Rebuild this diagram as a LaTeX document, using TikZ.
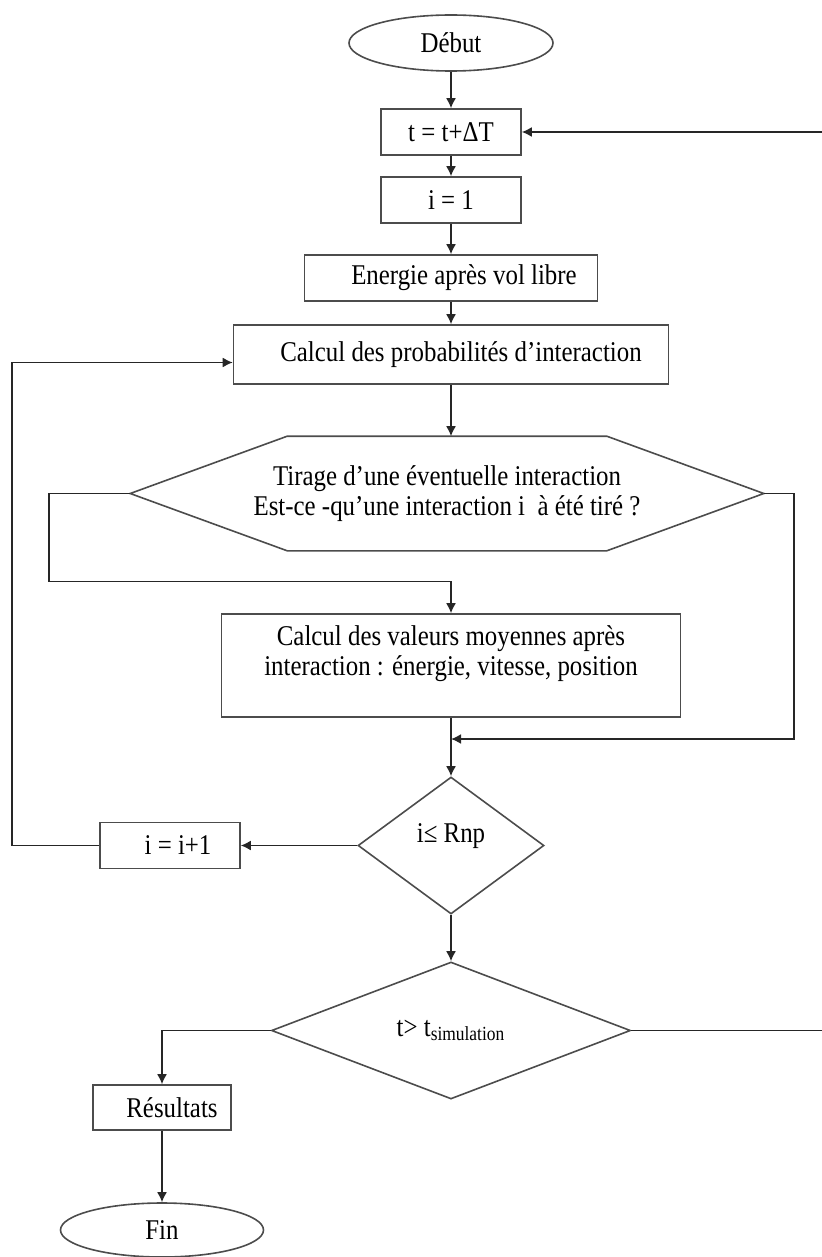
\documentclass[tikz,border=0pt]{standalone}
\usepackage{fontspec}
\setmainfont{Liberation Serif}[FakeStretch=0.87]
\usetikzlibrary{arrows.meta, shapes.geometric}

\begin{document}
\begin{tikzpicture}[
    x=0.5pt, y=-0.5pt,
    base/.style={draw=black!70, line width=0.8pt, align=center, inner sep=2pt, font=\fontsize{14.3}{15}\selectfont},
    block/.style={base, rectangle, minimum width=#1, minimum height=23pt},
    block/.default=70pt,
    term/.style={base, ellipse, minimum width=102pt, minimum height=28pt},
    test/.style={base, diamond, inner sep=0pt, minimum height=68.5pt},
    arrow/.style={-{Latex[length=5pt, width=5pt]}, draw=black!85, line width=0.8pt}
]
\useasboundingbox (0,0) rectangle (821,1257);

\node[term] (debut) at (451,43) {Début};
\node[block] (tstep) at (451,132) {t = t+ΔT};
\node[block] (istep) at (451,200) {i = 1};
\node[block=146.5pt] (energie) at (451,278) {\hspace*{13pt}Energie après vol libre};
\node[block=217.5pt, minimum height=29.5pt] (proba) at (451,354.5) {\hspace*{10pt}Calcul des probabilités d’interaction};

% hexagone de tirage
\node[base, draw=none, minimum width=316pt, minimum height=56.5pt] (tirage) at (447,493.5)
    {Tirage d’une éventuelle interaction\\Est-ce -qu’une interaction i \ à été tiré ?};
\draw[draw=black!70, line width=0.8pt] (tirage.west) -- ([xshift=78.5pt]tirage.north west)
    -- ([xshift=-78.5pt]tirage.north east) -- (tirage.east)
    -- ([xshift=-78.5pt]tirage.south east) -- ([xshift=78.5pt]tirage.south west) -- cycle;

\node[block=229.5pt, minimum height=51.5pt] (valeurs) at (451,665.5)
    {Calcul des valeurs moyennes après\\interaction : énergie, vitesse, position\\~};
\coordinate (merge) at (451,739);

\node[test, minimum width=93pt, text depth=12pt] (test1) at (451,845.5) {i≤ Rnp};
\node[block] (incr) at (170,845.5) {\hspace*{8pt}i = i+1};
\node[test, minimum width=179.5pt] (test2) at (451,1030.5) {t> t\textsubscript{simulation}};
\node[block=69pt, minimum height=22.5pt] (result) at (162,1107.5) {\hspace*{10pt}Résultats};
\node[term, minimum width=101.5pt, minimum height=27pt] (fin) at (162,1230) {Fin};

\draw[arrow] (debut) -- (tstep);
\draw[arrow] (tstep) -- (istep);
\draw[arrow] (istep) -- (energie);
\draw[arrow] (energie) -- (proba);
\draw[arrow] (proba.south) -- (proba.south |- tirage.north);

\draw[arrow] (tirage.west) -- ++(-81,0) -- ++(0,88) -| (valeurs.north);
\draw[arrow] (tirage.east) -- ++(30,0) |- (merge);
\draw[arrow] (valeurs) -- (test1);

\draw[arrow] (test1) -- (incr);
\draw[arrow] (incr.west) -- ++(-87,0) |- ([yshift=-4pt]proba.west);
\draw[arrow] (test1) -- (test2);

\draw[arrow] (test2.west) -| (result.north);
\draw[arrow] (result) -- (fin);
\draw[arrow] (test2.east) -- ++(200,0) |- (tstep.east);
\end{tikzpicture}
\end{document}
